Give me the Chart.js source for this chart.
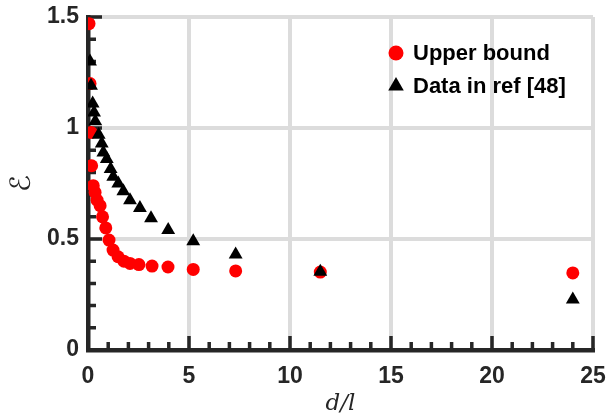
<!DOCTYPE html>
<html>
<head>
<meta charset="utf-8">
<script src="https://cdn.jsdelivr.net/npm/chart.js@4.4.1/dist/chart.umd.min.js"></script>
<style>
  body { margin: 0; background: #fff; }
</style>
</head>
<body>
<canvas id="plot" width="609" height="420"></canvas>
<script>
// d/l values and efficiency for the upper bound
const boundX = [0.05, 0.1, 0.15, 0.18, 0.26, 0.35, 0.45, 0.6, 0.72, 0.88, 1.04, 1.24, 1.49, 1.78, 2.08, 2.52, 3.17, 3.96, 5.21, 7.31, 11.5, 24.0];
const boundY = [1.47, 1.20, 0.98, 0.83, 0.74, 0.71, 0.675, 0.65, 0.60, 0.55, 0.495, 0.45, 0.42, 0.40, 0.39, 0.385, 0.378, 0.374, 0.363, 0.356, 0.351, 0.347];

// data from ref [48]
const refX = [0.1, 0.15, 0.23, 0.3, 0.36, 0.53, 0.68, 0.76, 0.93, 1.12, 1.25, 1.5, 1.75, 2.08, 2.57, 3.12, 3.97, 5.21, 7.31, 11.5, 24.0];
const refY = [1.30, 1.19, 1.11, 1.07, 1.03, 0.97, 0.93, 0.89, 0.86, 0.815, 0.78, 0.75, 0.715, 0.675, 0.64, 0.593, 0.54, 0.49, 0.43, 0.353, 0.228];

const xTicks = [0, 5, 10, 15, 20, 25];
const yTicks = [0, 0.5, 1, 1.5];
const xMinorStep = 1;
const yMinorStep = 0.1;

const seriesNames = ['Upper bound', 'Data in ref [48]'];

const axisColor = '#262626';
const gridColor = '#dcdcdc';

function toPoints(xs, ys) {
    return xs.map((v, i) => ({ x: v, y: ys[i] }));
}

// MATLAB style ticks pointing into the axes
const innerTicks = {
    id: 'innerTicks',
    beforeDatasetsDraw(chart) {
        const { ctx, chartArea } = chart;
        const x = chart.scales.x, y = chart.scales.y;
        ctx.save();
        ctx.strokeStyle = axisColor;
        ctx.lineWidth = 3.5;
        ctx.beginPath();
        const nx = Math.round((x.max - x.min) / xMinorStep);
        for (let i = 0; i <= nx; i++) {
            const v = x.min + i * xMinorStep;
            const px = x.getPixelForValue(v);
            const len = xTicks.includes(v) ? 14 : 8;
            ctx.moveTo(px, chartArea.bottom);
            ctx.lineTo(px, chartArea.bottom - len);
        }
        const ny = Math.round((y.max - y.min) / yMinorStep);
        for (let i = 0; i <= ny; i++) {
            const v = Math.round((y.min + i * yMinorStep) * 10) / 10;
            const py = y.getPixelForValue(v);
            const len = yTicks.includes(v) ? 14 : 8;
            ctx.moveTo(chartArea.left, py);
            ctx.lineTo(chartArea.left + len, py);
        }
        ctx.stroke();
        ctx.restore();
    }
};

// legend inside the axes, top right
const insideLegend = {
    id: 'insideLegend',
    afterDraw(chart) {
        const ctx = chart.ctx;
        const mx = 396, tx = 413;
        const rows = [53, 86];
        ctx.save();
        ctx.font = 'bold 22px "Liberation Sans", Arial, sans-serif';
        ctx.textBaseline = 'middle';
        chart.data.datasets.forEach((ds, i) => {
            const cy = rows[i];
            ctx.fillStyle = ds.backgroundColor;
            ctx.beginPath();
            if (ds.pointStyle === 'triangle') {
                const r = 9;
                ctx.moveTo(mx, cy - r);
                ctx.lineTo(mx + r * 0.866, cy + r * 0.5);
                ctx.lineTo(mx - r * 0.866, cy + r * 0.5);
                ctx.closePath();
            } else {
                ctx.arc(mx, cy, 7.5, 0, Math.PI * 2);
            }
            ctx.fill();
            ctx.fillStyle = '#000';
            ctx.fillText(ds.label, tx, cy + 1);
        });
        ctx.restore();
    }
};

const tickFont = { family: '"Liberation Sans", Arial, sans-serif', size: 23, weight: 'bold' };

new Chart(document.getElementById('plot'), {
    type: 'scatter',
    data: {
        datasets: [
            {
                label: seriesNames[0],
                data: toPoints(boundX, boundY),
                pointStyle: 'circle',
                pointRadius: 6.5,
                backgroundColor: '#ff0000',
                borderWidth: 0,
                order: 2
            },
            {
                label: seriesNames[1],
                data: toPoints(refX, refY),
                pointStyle: 'triangle',
                pointRadius: 8,
                backgroundColor: '#000000',
                borderWidth: 0,
                order: 1
            }
        ]
    },
    options: {
        responsive: false,
        animation: false,
        layout: { padding: { top: 17, right: 0, left: 0, bottom: 0 } },
        plugins: {
            legend: { display: false },
            tooltip: { enabled: false }
        },
        scales: {
            x: {
                type: 'linear',
                min: 0,
                max: 25,
                afterBuildTicks: s => { s.ticks = xTicks.map(v => ({ value: v })); },
                afterFit: s => { s.height = 70; s.paddingLeft = 0; s.paddingRight = 16; },
                grid: { color: gridColor, lineWidth: 4, drawTicks: false },
                border: { color: axisColor, width: 4.5 },
                ticks: { color: axisColor, font: tickFont, padding: 13, callback: v => String(v) },
                title: {
                    display: true,
                    text: 'd/l',
                    color: axisColor,
                    font: { family: '"DejaVu Serif", serif', size: 23, style: 'italic' },
                    padding: { bottom: 2, top: 0 }
                }
            },
            y: {
                type: 'linear',
                min: 0,
                max: 1.5,
                afterBuildTicks: s => { s.ticks = yTicks.map(v => ({ value: v })); },
                afterFit: s => { s.width = 88; s.paddingTop = 0; s.paddingBottom = 0; },
                grid: { color: gridColor, lineWidth: 4, drawTicks: false },
                border: { color: axisColor, width: 4.5 },
                ticks: { color: axisColor, font: tickFont, padding: 9, callback: v => String(v) },
                title: {
                    display: true,
                    text: 'ℰ',
                    color: axisColor,
                    font: { family: '"DejaVu Sans", sans-serif', size: 28 },
                    padding: { top: 6, bottom: 0 }
                }
            }
        }
    },
    plugins: [innerTicks, insideLegend]
});
</script>
</body>
</html>
